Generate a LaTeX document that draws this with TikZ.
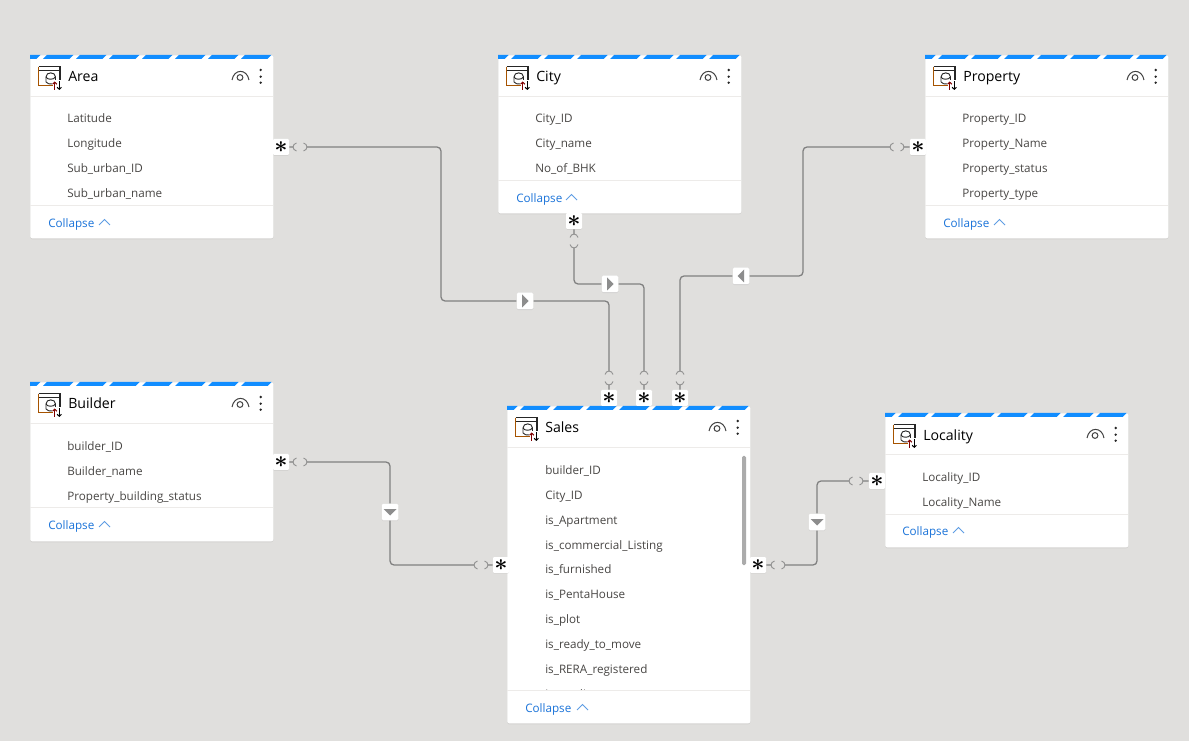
\documentclass[tikz,border=0pt]{standalone}
\usepackage{fontspec}
\setmainfont{Open Sans}
\usepackage{xcolor}
\usetikzlibrary{shadows,arrows.meta}
\definecolor{canvasgray}{HTML}{E0DFDD}
\definecolor{stripeblue}{HTML}{118DFF}
\definecolor{rulegray}{HTML}{EDEBE9}
\definecolor{fieldgray}{HTML}{484644}
\definecolor{linegray}{HTML}{808080}
\definecolor{linkblue}{HTML}{1A73D9}
\tikzset{
  tablecard/.style={anchor=north west, fill=white, rounded corners=1.5pt, minimum width=243*0.75pt, inner sep=0pt, drop shadow={opacity=.12, shadow xshift=0pt, shadow yshift=-.8pt}},
  titletext/.style={anchor=west, inner sep=0pt, text height=10pt, text depth=1.7pt, font=\fontsize{10.6pt}{12pt}\selectfont, text=black},
  fieldtext/.style={anchor=west, inner sep=0pt, text height=8.5pt, text depth=1.4pt, font=\fontsize{8.75pt}{10pt}\selectfont, text=fieldgray},
  collapsetext/.style={anchor=west, inner sep=0pt, text height=8.5pt, text depth=1.4pt, font=\fontsize{8.75pt}{10pt}\selectfont, text=linkblue},
  starbox/.style={fill=white, rounded corners=.8pt, minimum size=16*0.75pt, inner sep=0pt, font=\fontsize{17pt}{17pt}\selectfont\boldmath, drop shadow={opacity=.12, shadow xshift=0pt, shadow yshift=-.6pt}},
  flagbox/.style={fill=white, rounded corners=1pt, minimum size=16.5*0.75pt, inner sep=0pt, drop shadow={opacity=.15, shadow xshift=0pt, shadow yshift=-.6pt}},
  relline/.style={draw=linegray, line width=.95pt, rounded corners=3pt},
  gapline/.style={draw=linegray!85, line width=.7pt},
  cardrule/.style={draw=rulegray, line width=.7pt},
  cardtop/.pic={
    \begin{scope}
      \clip (0,0) rectangle (243,4);
      \foreach \s in {-20,13,...,244}
        \fill[stripeblue] (\s+4,0) -- (\s+30.5,0) -- (\s+26.5,4) -- (\s,4) -- cycle;
    \end{scope}
    % table icon
    \draw[draw=black!85, line width=.8pt] (8.5,11.7) -- (30,11.7) -- (30,30.7);
    \draw[draw=black!85, line width=.7pt] (8.5,15) -- (30,15);
    \draw[draw=orange!65!black, line width=.8pt] (8.5,11.7) -- (8.5,30.7) -- (30,30.7);
    \draw[draw=black!85, line width=.7pt] (16,27) -- (16,22) .. controls (16,16.5) and (25.5,16.5) .. (25.5,22) -- (25.5,25);
    \draw[draw=black!85, line width=.7pt] (16,22) .. controls (17,25) and (24,25) .. (25.5,22);
    \draw[draw=black!85, line width=.7pt] (16,27) .. controls (17,29) and (20,29) .. (22,29);
    \fill[white] (22.5,25.5) rectangle (33,37);
    \draw[draw=red!50!black, line width=.75pt, -{Straight Barb[length=1.5pt,width=3.2pt]}] (24.7,35) -- (24.7,26.5);
    \draw[draw=black, line width=.75pt, -{Straight Barb[length=1.5pt,width=3.2pt]}] (29.3,26.5) -- (29.3,35);
    % eye and menu dots
    \draw[draw=black!75, line width=.75pt] (202,25) .. controls (204,13.5) and (217,13.5) .. (219,25);
    \draw[draw=black!75, line width=.75pt] (210,22.5) circle (2.9);
    \foreach \d in {15,21.7,27.7} \fill[black!85] (230.7,\d) circle (1.3);
  },
  chevron/.pic={
    \draw[draw=linkblue!70, line width=.65pt] (0,3) -- (5.5,-2.5) -- (11,3);
  },
  hgap/.pic={
    \fill[canvasgray] (-7,-2) rectangle (7,2);
    \draw[gapline] (-3.5,-4) .. controls (-8,-3) and (-8,3) .. (-3.5,4);
    \draw[gapline] (3.5,-4) .. controls (8,-3) and (8,3) .. (3.5,4);
  },
  flagtip/.pic={
    \fill[linegray!90] (-3,-6.5) -- (3.5,0) -- (-3,6.5) -- cycle;
  }
}
\begin{document}
\begin{tikzpicture}[x=0.75pt, y=-0.75pt]
  \fill[canvasgray] (0,0) rectangle (1189,741);
  \useasboundingbox (0,0) rectangle (1189,741);

  % Area
  \node[tablecard, minimum height=183*0.75pt] (area) at (30,55) {};
  \pic at (area.north west) {cardtop};
  \node[titletext] (areatitle) at (68,76) {Area};
  \draw[cardrule] (30,96) -- (273,96);
  \node[fieldtext] (arealat) at (67,118) {Latitude};
  \node[fieldtext] (arealong) at (67,143) {Longitude};
  \node[fieldtext] (areasubid) at (67,168) {Sub\_urban\_ID};
  \node[fieldtext] (areasubname) at (67,192.5) {Sub\_urban\_name};
  \draw[cardrule] (30,205) -- (273,205);
  \node[collapsetext] (areacollapse) at (48,222.5) {Collapse};
  \pic at (99,222) {chevron};

  % City
  \node[tablecard, minimum height=158*0.75pt] (city) at (498,55) {};
  \pic at (city.north west) {cardtop};
  \node[titletext] (citytitle) at (536,76) {City};
  \draw[cardrule] (498,96) -- (741,96);
  \node[fieldtext] (cityid) at (535,118) {City\_ID};
  \node[fieldtext] (cityname) at (535,143) {City\_name};
  \node[fieldtext] (citybhk) at (535,168) {No\_of\_BHK};
  \draw[cardrule] (498,180) -- (741,180);
  \node[collapsetext] (citycollapse) at (516,197.5) {Collapse};
  \pic at (566,197) {chevron};

  % Property
  \node[tablecard, minimum height=183*0.75pt] (property) at (925,55) {};
  \pic at (property.north west) {cardtop};
  \node[titletext] (propertytitle) at (963,76) {Property};
  \draw[cardrule] (925,96) -- (1168,96);
  \node[fieldtext] (propertyid) at (962,118) {Property\_ID};
  \node[fieldtext] (propertyname) at (962,143) {Property\_Name};
  \node[fieldtext] (propertystatus) at (962,168) {Property\_status};
  \node[fieldtext] (propertytype) at (962,192.5) {Property\_type};
  \draw[cardrule] (925,205) -- (1168,205);
  \node[collapsetext] (propertycollapse) at (943,222.5) {Collapse};
  \pic at (994,222) {chevron};

  % Builder
  \node[tablecard, minimum height=159*0.75pt] (builder) at (30,382) {};
  \pic at (builder.north west) {cardtop};
  \node[titletext] (buildertitle) at (68,403) {Builder};
  \draw[cardrule] (30,423) -- (273,423);
  \node[fieldtext] (builderid) at (67,445.5) {builder\_ID};
  \node[fieldtext] (buildername) at (67,470.5) {Builder\_name};
  \node[fieldtext] (builderstatus) at (67,495.5) {Property\_building\_status};
  \draw[cardrule] (30,507) -- (273,507);
  \node[collapsetext] (buildercollapse) at (48,524.5) {Collapse};
  \pic at (99,524) {chevron};

  % Sales
  \node[tablecard, minimum height=317*0.75pt] (sales) at (507,406) {};
  \pic at (sales.north west) {cardtop};
  \node[titletext] (salestitle) at (545,427) {Sales};
  \draw[cardrule] (507,447) -- (750,447);
  \node[fieldtext] (salesbuilder) at (545,469.5) {builder\_ID};
  \node[fieldtext] (salescity) at (545,494.5) {City\_ID};
  \node[fieldtext] (salesapt) at (545,519.5) {is\_Apartment};
  \node[fieldtext] (salescomm) at (545,544.5) {is\_commercial\_Listing};
  \node[fieldtext] (salesfurn) at (545,568.5) {is\_furnished};
  \node[fieldtext] (salespenta) at (545,593.5) {is\_PentaHouse};
  \node[fieldtext] (salesplot) at (545,618.5) {is\_plot};
  \node[fieldtext] (salesready) at (545,643.5) {is\_ready\_to\_move};
  \node[fieldtext] (salesrera) at (545,668.5) {is\_RERA\_registered};
  \begin{scope}
    \clip (507,680) rectangle (750,690);
    \node[fieldtext] (salesstudio) at (545,693.5) {is\_studio};
  \end{scope}
  \draw[cardrule] (507,690) -- (750,690);
  \fill[black!33, rounded corners=1pt] (742,456) rectangle (746,565);
  \node[collapsetext] (salescollapse) at (525,707.5) {Collapse};
  \pic at (577,707) {chevron};

  % Locality
  \node[tablecard, minimum height=134*0.75pt] (locality) at (885,413) {};
  \pic at (locality.north west) {cardtop};
  \node[titletext] (localitytitle) at (923,435) {Locality};
  \draw[cardrule] (885,454) -- (1128,454);
  \node[fieldtext] (localityid) at (922,476.5) {Locality\_ID};
  \node[fieldtext] (localityname) at (922,501.5) {Locality\_Name};
  \draw[cardrule] (885,514) -- (1128,514);
  \node[collapsetext] (localitycollapse) at (902,530.5) {Collapse};
  \pic at (953,530) {chevron};

  % many ends
  \node[starbox] (areastar) at (281,147) {$\ast$};
  \node[starbox] (citystar) at (574,221) {$\ast$};
  \node[starbox] (propertystar) at (918,147) {$\ast$};
  \node[starbox] (builderstar) at (281,462) {$\ast$};
  \node[starbox] (salesstarA) at (609,398) {$\ast$};
  \node[starbox] (salesstarB) at (644,398) {$\ast$};
  \node[starbox] (salesstarC) at (680,398) {$\ast$};
  \node[starbox] (salesstarD) at (501,565) {$\ast$};
  \node[starbox] (salesstarE) at (758,565) {$\ast$};
  \node[starbox] (localitystar) at (877,481) {$\ast$};

  % filter direction boxes
  \node[flagbox] (areaflag) at (525,301) {};
  \node[flagbox] (cityflag) at (610,284) {};
  \node[flagbox] (propertyflag) at (741,276) {};
  \node[flagbox] (builderflag) at (390,512) {};
  \node[flagbox] (localityflag) at (817,522) {};
  \pic at (areaflag) {flagtip};
  \pic at (cityflag) {flagtip};
  \pic[xscale=-1] at (propertyflag) {flagtip};
  \pic[rotate=-90] at (builderflag) {flagtip};
  \pic[rotate=-90] at (localityflag) {flagtip};

  \coordinate (areabend) at (441,301);
  \coordinate (propertybend) at (803,276);

  \draw[relline] (areastar) -| (areabend) -- (areaflag);
  \draw[relline] (areaflag) -| (salesstarA);
  \draw[relline] (citystar) |- (cityflag);
  \draw[relline] (cityflag) -| (salesstarB);
  \draw[relline] (propertystar) -| (propertybend) -- (propertyflag);
  \draw[relline] (propertyflag) -| (salesstarC);
  \draw[relline] (builderstar) -| (builderflag);
  \draw[relline] (builderflag) |- (salesstarD);
  \draw[relline] (salesstarE) -| (localityflag);
  \draw[relline] (localityflag) |- (localitystar);

  \pic at (300,147) {hgap};
  \pic at (897,147) {hgap};
  \pic at (300,462) {hgap};
  \pic at (481,565) {hgap};
  \pic at (778,565) {hgap};
  \pic at (856,481) {hgap};
  \pic[rotate=90] at (574,241) {hgap};
  \pic[rotate=90] at (609,378) {hgap};
  \pic[rotate=90] at (644,378) {hgap};
  \pic[rotate=90] at (680,378) {hgap};
\end{tikzpicture}
\end{document}
